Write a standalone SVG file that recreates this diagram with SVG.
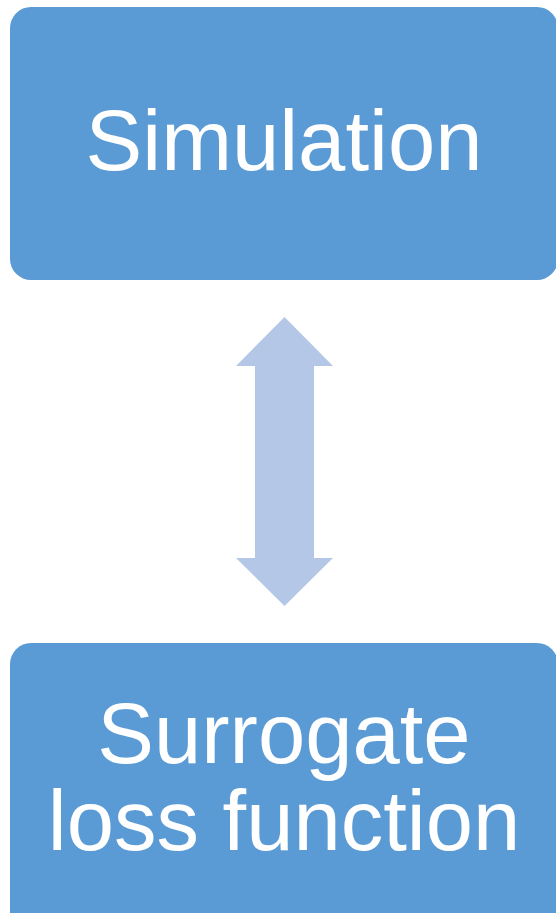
<svg xmlns="http://www.w3.org/2000/svg" width="556" height="913" viewBox="0 0 556 913">
<style>
.box{fill:#5B9BD5;}
.lbl{fill:#FFFFFF;font-family:"Liberation Sans",Arial,sans-serif;font-size:85px;text-anchor:middle;}
.conn{fill:#B4C7E7;}
</style>
<rect width="556" height="913" fill="#FFFFFF"/>
<g id="simulation">
<rect class="box" x="10" y="7" width="548" height="273" rx="21" ry="21"/>
<text class="lbl" x="284" y="170">Simulation</text>
</g>
<g id="surrogate">
<rect class="box" x="10" y="643" width="548" height="300" rx="21" ry="21"/>
<text class="lbl" x="284" y="763">Surrogate</text>
<text class="lbl" x="284" y="850">loss function</text>
</g>
<g id="connectors">
<path class="conn" d="M284.5,317 L333,366 L314,366 L314,558 L333,558 L284.5,606 L236,558 L255,558 L255,366 L236,366 Z"/>
</g>
</svg>
